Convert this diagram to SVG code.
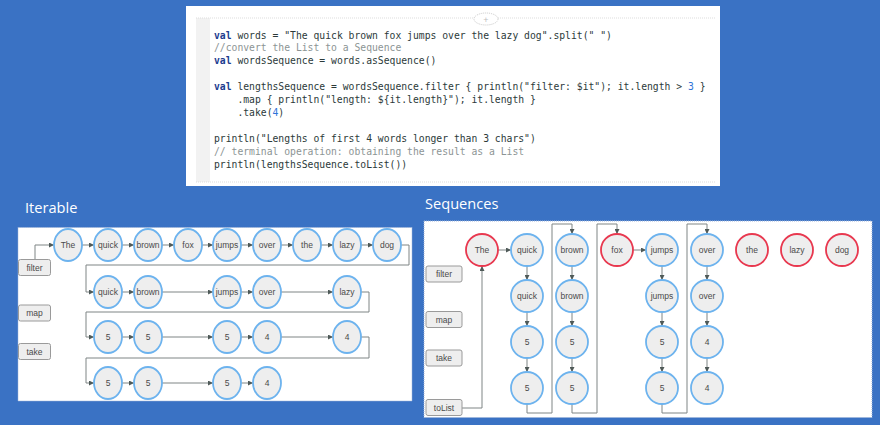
<svg xmlns="http://www.w3.org/2000/svg" width="880" height="425" viewBox="0 0 880 425">
<defs>
<marker id="arr" viewBox="0 0 6 6" refX="6" refY="3" markerWidth="5" markerHeight="5" markerUnits="userSpaceOnUse" orient="auto"><path d="M0,0 L6,3 L0,6 Z" fill="#4f5a58"/></marker>
</defs>
<style>
.code{font-family:"DejaVu Sans Mono",monospace;font-size:9.73px;fill:#2c3a3a}
.kw{fill:#1c3d8f;font-weight:bold}
.cm{fill:#8c9494}
.num{fill:#2f74d8}
.title{font-family:"Open Sans","Liberation Sans",sans-serif;font-size:14.6px;fill:#ffffff}
.panel{fill:#ffffff;stroke:#9fb4d8;stroke-width:1;stroke-dasharray:1 1}
.n{fill:#eeeeee;stroke:#6db3ee;stroke-width:1.8}
.r{fill:#eeeeee;stroke:#e8384f;stroke-width:1.8}
.t{font-family:"Liberation Sans",Arial,sans-serif;font-size:8.5px;fill:#4a4a4a;text-anchor:middle}
.lb{fill:#eeeeee;stroke:#9a9a9a;stroke-width:1}
.c{fill:none;stroke:#7f8585;stroke-width:1}
.ca{fill:none;stroke:#7f8585;stroke-width:1;marker-end:url(#arr)}
</style>
<rect x="0" y="0" width="880" height="425" fill="#3a72c4"/>
<g id="code">
<rect x="186" y="6" width="534" height="180" fill="#ffffff"/>
<rect x="196" y="18" width="14" height="164" fill="#f2f2f2"/>
<line x1="196" y1="18" x2="716" y2="18" stroke="#dddddd" stroke-dasharray="1 1"/>
<line x1="196" y1="182" x2="716" y2="182" stroke="#dddddd" stroke-dasharray="1 1"/>
<ellipse cx="486" cy="19" rx="12" ry="6" fill="#ffffff" stroke="#c8c8c8" stroke-dasharray="1 1"/>
<text x="486" y="22.5" font-family="Liberation Sans,sans-serif" font-size="9" fill="#c0c0c0" text-anchor="middle">+</text>
<text class="code" x="214" y="38.5" xml:space="preserve"><tspan class="kw">val</tspan> words = "The quick brown fox jumps over the lazy dog".split(" ")</text>
<text class="code cm" x="214" y="51.4" xml:space="preserve">//convert the List to a Sequence</text>
<text class="code" x="214" y="64.3" xml:space="preserve"><tspan class="kw">val</tspan> wordsSequence = words.asSequence()</text>
<text class="code" x="214" y="90.1" xml:space="preserve"><tspan class="kw">val</tspan> lengthsSequence = wordsSequence.filter { println("filter: $it"); it.length &gt; <tspan class="num">3</tspan> }</text>
<text class="code" x="237.4" y="103" xml:space="preserve">.map { println("length: ${it.length}"); it.length }</text>
<text class="code" x="237.4" y="115.9" xml:space="preserve">.take(<tspan class="num">4</tspan>)</text>
<text class="code" x="214" y="141.7" xml:space="preserve">println("Lengths of first 4 words longer than 3 chars")</text>
<text class="code cm" x="214" y="154.6" xml:space="preserve">// terminal operation: obtaining the result as a List</text>
<text class="code" x="214" y="167.5" xml:space="preserve">println(lengthsSequence.toList())</text>
</g>
<text class="title" x="25" y="213">Iterable</text>
<text class="title" x="425" y="209">Sequences</text>
<rect class="panel" x="18" y="227.5" width="394" height="173.5"/>
<rect class="panel" x="424" y="221" width="448" height="196.5"/>
<g id="connectors">
<path class="ca" d="M35,259 V245 H54"/>
<path class="ca" d="M82,245 H94"/><path class="ca" d="M122,245 H134"/><path class="ca" d="M162,245 H174"/><path class="ca" d="M202,245 H213"/><path class="ca" d="M241,245 H253"/><path class="ca" d="M281,245 H293"/><path class="ca" d="M321,245 H333"/><path class="ca" d="M361,245 H373"/>
<path class="ca" d="M401,245 H409 V265 H86 V292 H94"/>
<path class="ca" d="M122,292 H134"/><path class="ca" d="M162,292 H213"/><path class="ca" d="M241,292 H253"/><path class="ca" d="M281,292 H333"/>
<path class="ca" d="M361,292 H369 V312 H86 V337 H94"/>
<path class="ca" d="M122,337 H134"/><path class="ca" d="M162,337 H213"/><path class="ca" d="M241,337 H253"/><path class="ca" d="M281,337 H333"/>
<path class="ca" d="M361,337 H369 V358 H86 V383 H94"/>
<path class="ca" d="M122,383 H134"/><path class="ca" d="M162,383 H213"/><path class="ca" d="M241,383 H253"/>
<path class="ca" d="M462,408 H482 V266"/>
<path class="ca" d="M498,250 H511"/>
<path class="ca" d="M527,266 V280"/><path class="ca" d="M527,312 V326"/><path class="ca" d="M527,358 V372"/>
<path class="ca" d="M527,404 V413 H552 V224 H572 V234"/>
<path class="ca" d="M572,266 V280"/><path class="ca" d="M572,312 V326"/><path class="ca" d="M572,358 V372"/>
<path class="ca" d="M572,404 V413 H597 V224 H617 V234"/>
<path class="ca" d="M633,250 H646"/>
<path class="ca" d="M662,266 V280"/><path class="ca" d="M662,312 V326"/><path class="ca" d="M662,358 V372"/>
<path class="ca" d="M662,404 V413 H687 V224 H707 V234"/>
<path class="ca" d="M707,266 V280"/><path class="ca" d="M707,312 V326"/><path class="ca" d="M707,358 V372"/>
</g>
<g id="it-labels">
<g id="it-filter"><rect class="lb" x="18.5" y="259.5" width="32" height="16" rx="2"/><text class="t" x="34.5" y="270.5">filter</text></g>
<g id="it-map"><rect class="lb" x="18.5" y="305" width="32" height="16" rx="2"/><text class="t" x="34.5" y="316">map</text></g>
<g id="it-take"><rect class="lb" x="18.5" y="343.5" width="32" height="16" rx="2"/><text class="t" x="34.5" y="354.5">take</text></g>
</g>
<g id="it-row1">
<g id="i1-the"><ellipse class="n" cx="68" cy="245" rx="14" ry="16"/><text class="t" x="68" y="248">The</text></g>
<g id="i1-quick"><ellipse class="n" cx="108" cy="245" rx="14" ry="16"/><text class="t" x="108" y="248">quick</text></g>
<g id="i1-brown"><ellipse class="n" cx="148" cy="245" rx="14" ry="16"/><text class="t" x="148" y="248">brown</text></g>
<g id="i1-fox"><ellipse class="n" cx="188" cy="245" rx="14" ry="16"/><text class="t" x="188" y="248">fox</text></g>
<g id="i1-jumps"><ellipse class="n" cx="227" cy="245" rx="14" ry="16"/><text class="t" x="227" y="248">jumps</text></g>
<g id="i1-over"><ellipse class="n" cx="267" cy="245" rx="14" ry="16"/><text class="t" x="267" y="248">over</text></g>
<g id="i1-the2"><ellipse class="n" cx="307" cy="245" rx="14" ry="16"/><text class="t" x="307" y="248">the</text></g>
<g id="i1-lazy"><ellipse class="n" cx="347" cy="245" rx="14" ry="16"/><text class="t" x="347" y="248">lazy</text></g>
<g id="i1-dog"><ellipse class="n" cx="387" cy="245" rx="14" ry="16"/><text class="t" x="387" y="248">dog</text></g>
</g>
<g id="it-row2">
<g id="i2-quick"><ellipse class="n" cx="108" cy="292" rx="14" ry="16"/><text class="t" x="108" y="295">quick</text></g>
<g id="i2-brown"><ellipse class="n" cx="148" cy="292" rx="14" ry="16"/><text class="t" x="148" y="295">brown</text></g>
<g id="i2-jumps"><ellipse class="n" cx="227" cy="292" rx="14" ry="16"/><text class="t" x="227" y="295">jumps</text></g>
<g id="i2-over"><ellipse class="n" cx="267" cy="292" rx="14" ry="16"/><text class="t" x="267" y="295">over</text></g>
<g id="i2-lazy"><ellipse class="n" cx="347" cy="292" rx="14" ry="16"/><text class="t" x="347" y="295">lazy</text></g>
</g>
<g id="it-row3">
<g id="i3-a"><ellipse class="n" cx="108" cy="337" rx="14" ry="16"/><text class="t" x="108" y="340">5</text></g>
<g id="i3-b"><ellipse class="n" cx="148" cy="337" rx="14" ry="16"/><text class="t" x="148" y="340">5</text></g>
<g id="i3-c"><ellipse class="n" cx="227" cy="337" rx="14" ry="16"/><text class="t" x="227" y="340">5</text></g>
<g id="i3-d"><ellipse class="n" cx="267" cy="337" rx="14" ry="16"/><text class="t" x="267" y="340">4</text></g>
<g id="i3-e"><ellipse class="n" cx="347" cy="337" rx="14" ry="16"/><text class="t" x="347" y="340">4</text></g>
</g>
<g id="it-row4">
<g id="i4-a"><ellipse class="n" cx="108" cy="383" rx="14" ry="16"/><text class="t" x="108" y="386">5</text></g>
<g id="i4-b"><ellipse class="n" cx="148" cy="383" rx="14" ry="16"/><text class="t" x="148" y="386">5</text></g>
<g id="i4-c"><ellipse class="n" cx="227" cy="383" rx="14" ry="16"/><text class="t" x="227" y="386">5</text></g>
<g id="i4-d"><ellipse class="n" cx="267" cy="383" rx="14" ry="16"/><text class="t" x="267" y="386">4</text></g>
</g>
<g id="seq-labels">
<g id="s-filter"><rect class="lb" x="426" y="266" width="36" height="16" rx="2"/><text class="t" x="444" y="277">filter</text></g>
<g id="s-map"><rect class="lb" x="426" y="311.5" width="36" height="16" rx="2"/><text class="t" x="444" y="322.5">map</text></g>
<g id="s-take"><rect class="lb" x="426" y="350" width="36" height="16" rx="2"/><text class="t" x="444" y="361">take</text></g>
<g id="s-tolist"><rect class="lb" x="426" y="399.5" width="36" height="16" rx="2"/><text class="t" x="444" y="410.5">toList</text></g>
</g>
<g id="seq-nodes">
<g id="s-the"><circle class="r" cx="482" cy="250" r="16"/><text class="t" x="482" y="253">The</text></g>
<g id="s-quick1"><circle class="n" cx="527" cy="250" r="16"/><text class="t" x="527" y="253">quick</text></g>
<g id="s-quick2"><circle class="n" cx="527" cy="296" r="16"/><text class="t" x="527" y="299">quick</text></g>
<g id="s-quick3"><circle class="n" cx="527" cy="342" r="16"/><text class="t" x="527" y="345">5</text></g>
<g id="s-quick4"><circle class="n" cx="527" cy="388" r="16"/><text class="t" x="527" y="391">5</text></g>
<g id="s-brown1"><circle class="n" cx="572" cy="250" r="16"/><text class="t" x="572" y="253">brown</text></g>
<g id="s-brown2"><circle class="n" cx="572" cy="296" r="16"/><text class="t" x="572" y="299">brown</text></g>
<g id="s-brown3"><circle class="n" cx="572" cy="342" r="16"/><text class="t" x="572" y="345">5</text></g>
<g id="s-brown4"><circle class="n" cx="572" cy="388" r="16"/><text class="t" x="572" y="391">5</text></g>
<g id="s-fox"><circle class="r" cx="617" cy="250" r="16"/><text class="t" x="617" y="253">fox</text></g>
<g id="s-jumps1"><circle class="n" cx="662" cy="250" r="16"/><text class="t" x="662" y="253">jumps</text></g>
<g id="s-jumps2"><circle class="n" cx="662" cy="296" r="16"/><text class="t" x="662" y="299">jumps</text></g>
<g id="s-jumps3"><circle class="n" cx="662" cy="342" r="16"/><text class="t" x="662" y="345">5</text></g>
<g id="s-jumps4"><circle class="n" cx="662" cy="388" r="16"/><text class="t" x="662" y="391">5</text></g>
<g id="s-over1"><circle class="n" cx="707" cy="250" r="16"/><text class="t" x="707" y="253">over</text></g>
<g id="s-over2"><circle class="n" cx="707" cy="296" r="16"/><text class="t" x="707" y="299">over</text></g>
<g id="s-over3"><circle class="n" cx="707" cy="342" r="16"/><text class="t" x="707" y="345">4</text></g>
<g id="s-over4"><circle class="n" cx="707" cy="388" r="16"/><text class="t" x="707" y="391">4</text></g>
<g id="s-the2"><circle class="r" cx="752" cy="250" r="16"/><text class="t" x="752" y="253">the</text></g>
<g id="s-lazy"><circle class="r" cx="797" cy="250" r="16"/><text class="t" x="797" y="253">lazy</text></g>
<g id="s-dog"><circle class="r" cx="842" cy="250" r="16"/><text class="t" x="842" y="253">dog</text></g>
</g>
</svg>
